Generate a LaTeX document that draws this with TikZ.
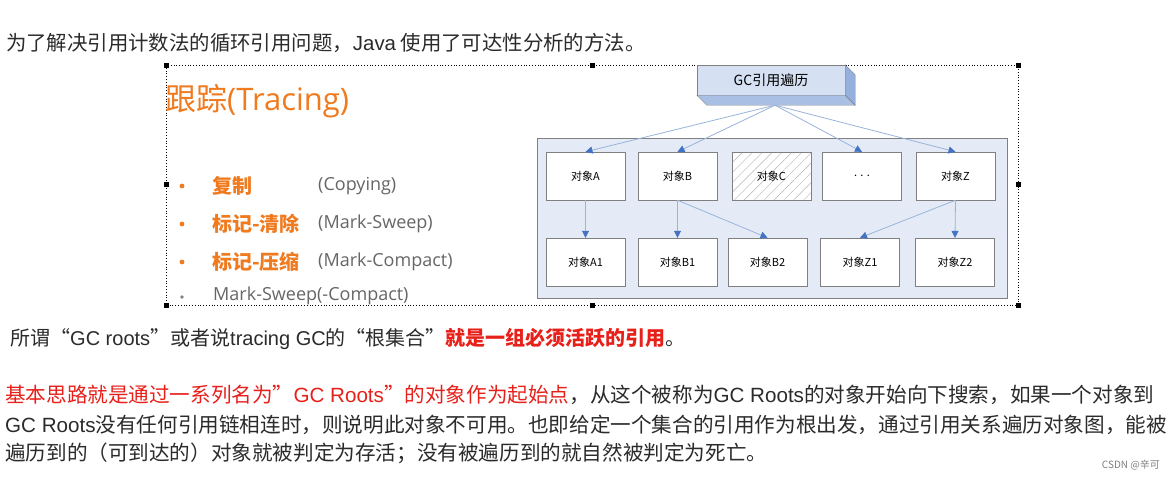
\documentclass[tikz,border=0pt]{standalone}
\usepackage{fontspec}
\setmainfont{Noto Sans CJK SC}
\newfontfamily\arialfont{Liberation Sans}
\newfontfamily\segoefont{Open Sans}
\usetikzlibrary{arrows.meta,positioning,calc,patterns.meta}

\definecolor{traceorange}{HTML}{F07A1E}
\definecolor{textgray}{HTML}{2B2B2B}
\definecolor{notered}{HTML}{E8201A}
\definecolor{boxline}{HTML}{808080}
\definecolor{panelblue}{HTML}{E4EBF6}
\definecolor{linkblue}{HTML}{9AB3DC}
\definecolor{tipblue}{HTML}{4472C4}
\definecolor{gcfront}{HTML}{D5E0F2}
\definecolor{gcside}{HTML}{A9BFE3}

\tikzset{
  txt/.style={anchor=west, inner sep=0pt, text=textgray},
  objbox/.style={draw=boxline, fill=white, minimum width=79pt, minimum height=48pt,
    inner sep=0pt, font=\fontsize{11}{13}\selectfont},
  link/.style={draw=linkblue, line width=0.8pt, -{Triangle[length=7pt,width=7pt,color=tipblue]}},
}

\begin{document}
\begin{tikzpicture}[x=1pt,y=-1pt]
    \useasboundingbox (0,0) rectangle (1171,479);
    \fill[white] (0,0) rectangle (1171,479);

    % Top line
    \node[txt, font=\fontsize{20.4}{24}\selectfont] (intro) at (6,43)
        {为了解决引用计数法的循环引用问题，{\arialfont Java} 使用了可达性分析的方法。};

    % Selection frame with handles
    \draw[dotted, line width=0.8pt] (166,65) rectangle (1018,305);
    \foreach \hx/\hy in {166/65, 592/65, 1018/65, 166/184, 1018/184, 166/305, 592/305, 1018/305}
        \fill (\hx-2.5,\hy-2.5) rectangle (\hx+2.5,\hy+2.5);

    % Left: tracing methods
    \node[txt, text=traceorange, font=\fontsize{31}{36}\selectfont] (tracing) at (165,101)
        {跟踪{\segoefont(Tracing)}};
    \fill[traceorange] (182,186) circle (2.4);
    \fill[traceorange] (182,224) circle (2.4);
    \fill[traceorange] (182,262) circle (2.4);
    \fill[gray] (182,297) circle (1.9);
    \node[txt, text=traceorange, font=\fontsize{20}{24}\selectfont\bfseries] (copy) at (212,186) {复制};
    \node[txt, text=traceorange, font=\fontsize{20}{24}\selectfont\bfseries] (sweep) at (212,224) {标记-清除};
    \node[txt, text=traceorange, font=\fontsize{20}{24}\selectfont\bfseries] (compact) at (212,262) {标记-压缩};
    \node[txt, text=gray!80!black, font=\fontsize{18}{22}\segoefont] (copyen) at (318,186) {(Copying)};
    \node[txt, text=gray!80!black, font=\fontsize{18}{22}\segoefont] (sweepen) at (318,224) {(Mark-Sweep)};
    \node[txt, text=gray!80!black, font=\fontsize{18}{22}\segoefont] (compacten) at (318,262) {(Mark-Compact)};
    \node[txt, text=gray!80!black, font=\fontsize{18}{22}\segoefont] (both) at (213,296) {Mark-Sweep(-Compact)};

    % Right: reference graph
    \draw[boxline, fill=panelblue] (537,138) rectangle (1007,298);
    \node[draw=boxline, fill=gcfront, minimum width=148pt, minimum height=30pt, inner sep=0pt,
        font=\fontsize{14}{16}\selectfont] (gcroot) at (771,80) {GC引用遍历};
    \filldraw[fill=gcside, draw=boxline] (gcroot.south west) -- ++(10,10)
        -- ($(gcroot.south east)+(10,10)$) -- (gcroot.south east) -- cycle;
    \filldraw[fill=gcside!80!tipblue, draw=boxline] (gcroot.north east) -- ++(10,10)
        -- ($(gcroot.south east)+(10,10)$) -- (gcroot.south east) -- cycle;
    \coordinate (gcfoot) at ($(gcroot.south)+(4,10)$);

    \node[objbox] (objA) at (585.5,176) {对象A};
    \node[objbox] (objB) at (677.5,176) {对象B};
    \node[objbox, preaction={fill=white},
        pattern={Lines[angle=45,distance=7pt,line width=0.4pt]}, pattern color=gray!60] (objC) at (771.5,176) {对象C};
    \node[objbox] (objdots) at (862,176) {. . .};
    \node[objbox] (objZ) at (955.5,176) {对象Z};

    \node[objbox] (objA1) at (585.5,262) {对象A1};
    \node[objbox] (objB1) at (677.5,262) {对象B1};
    \node[objbox] (objB2) at (767.5,262) {对象B2};
    \node[objbox] (objZ1) at (860,262) {对象Z1};
    \node[objbox] (objZ2) at (955,262) {对象Z2};

    \draw[link] (gcfoot) -- (objA.north);
    \draw[link] (gcfoot) -- (objB.north);
    \draw[link] (gcfoot) -- (objdots.north);
    \draw[link] (gcfoot) -- (objZ.north);
    \draw[link] (objA.south) -- (objA1.north);
    \draw[link] (objB.south) -- (objB1.north);
    \draw[link] (objB.south) -- (objB2.north);
    \draw[link] (objZ.south) -- (objZ2.north);
    \draw[link] (objZ.south) -- (objZ1.north);

    % Bottom explanation
    \node[txt, font=\fontsize{20}{24}\selectfont] (gcroots) at (10,339)
        {所谓“{\arialfont GC roots}”或者说{\arialfont tracing GC}的“根集合”\textcolor{notered}{\bfseries 就是一组必须活跃的引用}。};
    \node[txt, font=\fontsize{20.6}{24}\selectfont] (para1) at (5,395)
        {\textcolor{notered}{基本思路就是通过一系列名为”{\arialfont GC Roots}”的对象作为起始点}，从这个被称为{\arialfont GC Roots}的对象开始向下搜索，如果一个对象到};
    \node[txt, font=\fontsize{20.6}{24}\selectfont] (para2) at (5,425)
        {{\arialfont GC Roots}没有任何引用链相连时，则说明此对象不可用。也即给定一个集合的引用作为根出发，通过引用关系遍历对象图，能被};
    \node[txt, font=\fontsize{20.6}{24}\selectfont] (para3) at (5,453)
        {遍历到的（可到达的）对象就被判定为存活；没有被遍历到的就自然被判定为死亡。};
    \node[anchor=east, inner sep=0pt, text=gray, font=\fontsize{10}{12}\selectfont] (mark) at (1160,465) {CSDN @辛可};
\end{tikzpicture}
\end{document}
